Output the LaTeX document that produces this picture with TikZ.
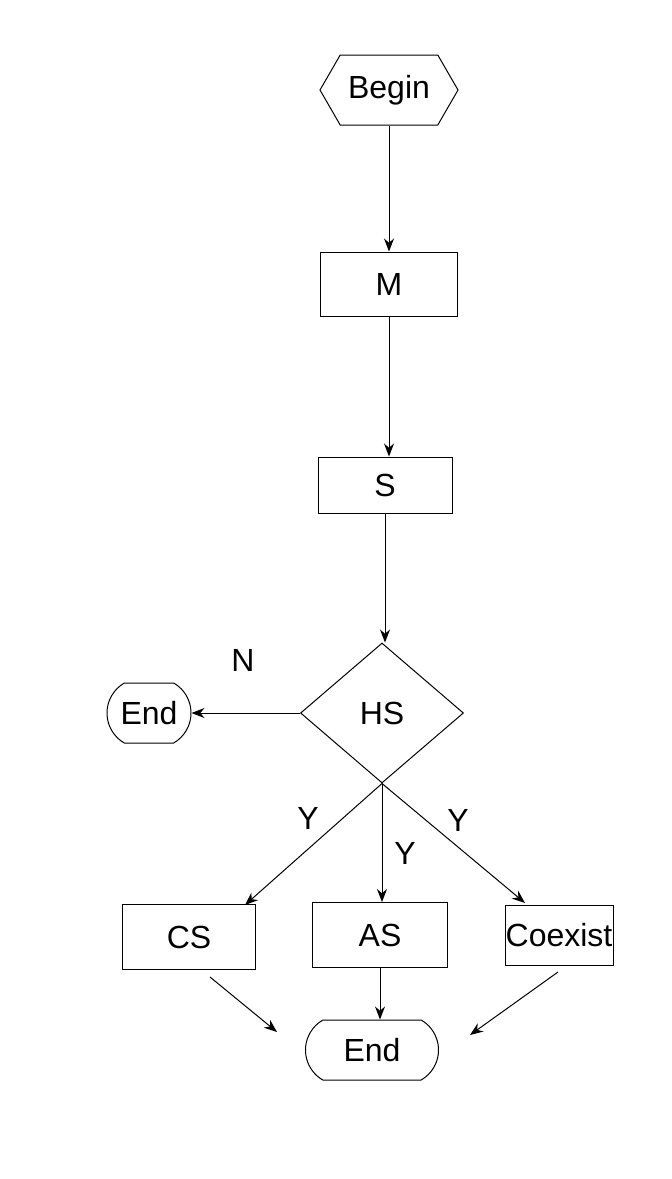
\documentclass[tikz,border=0pt]{standalone}
\usepackage{fontspec}
\setmainfont{Liberation Sans}
\usetikzlibrary{shapes.geometric,shapes.misc,shapes.symbols,arrows.meta}
\begin{document}
\begin{tikzpicture}[x=1pt,y=-1pt,line width=1pt,
  every node/.style={font=\fontsize{32}{38}\selectfont},
  box/.style={draw,rectangle,inner sep=0pt},
  term/.style={draw,rounded rectangle,rounded rectangle arc length=120,inner sep=0pt},
  arr/.style={-{Stealth[length=13pt,width=10pt]},line width=1pt},
  lab/.style={inner sep=0pt}]
\useasboundingbox (0,0) rectangle (672,1179);
\node[draw,signal,signal to=east and west,minimum width=138pt,minimum height=70pt,inner sep=0pt,signal pointer angle=120] (begin) at (389,90) {Begin};
\node[box,minimum width=137pt,minimum height=64pt] (m) at (389,284) {M};
\node[box,minimum width=134pt,minimum height=56pt] (s) at (385,485) {S};
\node[draw,diamond,minimum width=163pt,minimum height=140pt,inner sep=0pt,aspect=1.16] (hs) at (382,713) {HS};
\node[term,minimum width=84pt,minimum height=60pt] (end1) at (149,713) {End};
\node[box,minimum width=133pt,minimum height=65pt] (cs) at (189,937) {CS};
\node[box,minimum width=135pt,minimum height=65pt] (as) at (380,935) {AS};
\node[box,minimum width=108pt,minimum height=60pt] (co) at (559,935) {Coexist};
\node[term,minimum width=133pt,minimum height=60pt] (end2) at (372,1050) {End};
\coordinate (csin) at (245,905);
\coordinate (coin) at (525,903);
\coordinate (csout) at (210,977);
\coordinate (e2l) at (277,1032);
\coordinate (coout) at (558,972);
\coordinate (e2r) at (470,1035);
\draw[arr] (begin.south) -- (begin.south |- m.north);
\draw[arr] (m.south) -- (m.south |- s.north);
\draw[arr] (s.south) -- (s.south |- hs.north);
\draw[arr] (hs.west) -- (end1.east);
\draw[arr] (hs.south) -- (csin);
\draw[arr] (hs.south) -- (hs.south |- as.north);
\draw[arr] (hs.south) -- (coin);
\draw[arr] (csout) -- (e2l);
\draw[arr] (as.south) -- (as.south |- end2.north);
\draw[arr] (coout) -- (e2r);
\node[lab] at (243,660) {N};
\node[lab] at (308,818) {Y};
\node[lab] at (405,853) {Y};
\node[lab] at (458,820) {Y};
\end{tikzpicture}
\end{document}
